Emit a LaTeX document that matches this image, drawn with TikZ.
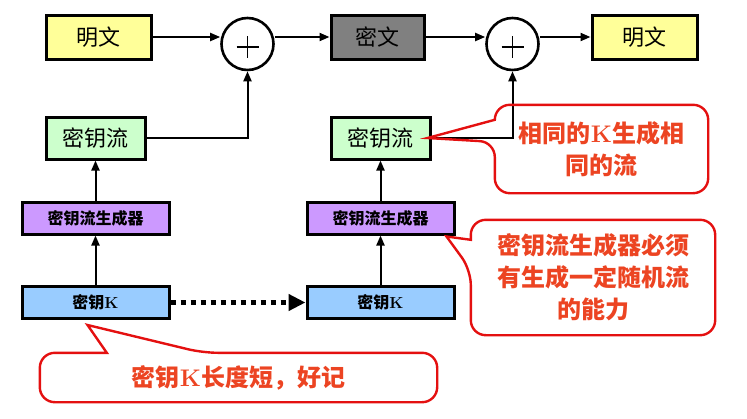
\documentclass[tikz,border=0pt]{standalone}
\usepackage{fontspec}
\newfontfamily\cjk{Noto Sans CJK SC}
\usetikzlibrary{arrows.meta,calc}
\definecolor{ptyellow}{RGB}{255,255,153}
\definecolor{ctgray}{RGB}{128,128,128}
\definecolor{ksgreen}{RGB}{204,255,204}
\definecolor{genpurple}{RGB}{204,153,255}
\definecolor{keyblue}{RGB}{153,204,255}
\definecolor{notered}{RGB}{228,16,16}
\definecolor{notetext}{RGB}{236,68,34}
\newcommand\serifK{{\rmfamily\bfseries K}}
\begin{document}
\begin{tikzpicture}[x=1pt,y=-1pt,
  blk/.style={draw=black,line width=3pt,inner sep=0pt,font=\cjk\fontsize{22}{26}\selectfont},
  small/.style={blk,minimum width=147,minimum height=32,font=\cjk\bfseries\fontsize{16}{18}\selectfont},
  xor/.style={circle,draw,line width=2.6pt,minimum size=52,inner sep=0pt,
    path picture={\draw[line width=1.6pt] (path picture bounding box.center) +(-11,3) -- +(11,3) +(0,-8) -- +(0,14);}},
  flow/.style={line width=2pt,-{Triangle[length=10pt,width=8pt]}},
  dots/.style={line width=5pt,dash pattern=on 5pt off 5pt,-{Triangle[length=17pt,width=16pt]}},
  note/.style={inner sep=0pt,align=center,text=notetext,font=\cjk\bfseries\fontsize{24}{32}\selectfont},
  noteline/.style={draw=notered,line width=2.4pt,rounded corners=15pt}]
\useasboundingbox (0,0) rectangle (747,418);

\node[blk,fill=ptyellow,minimum width=105,minimum height=44] (pt1) at (98.5,37) {明文};
\node[xor] (xor1) at (247.5,44) {};
\node[blk,fill=ctgray,minimum width=93,minimum height=44] (ct) at (377.5,37) {密文};
\node[xor] (xor2) at (512.5,44) {};
\node[blk,fill=ptyellow,minimum width=105,minimum height=44] (pt2) at (644.5,37) {明文};

\node[blk,fill=ksgreen,minimum width=99,minimum height=42] (ks1) at (95.5,138) {密钥流};
\node[blk,fill=ksgreen,minimum width=99,minimum height=42] (ks2) at (380.5,138) {密钥流};
\node[small,fill=genpurple] (gen1) at (95.5,218) {密钥流生成器};
\node[small,fill=genpurple] (gen2) at (380.5,218) {密钥流生成器};
\node[small,fill=keyblue] (key1) at (95.5,302.5) {密钥\serifK};
\node[small,fill=keyblue] (key2) at (380.5,302.5) {密钥\serifK};

\draw[flow] (pt1.east) -- (pt1.east -| xor1.west);
\draw[flow] (xor1.east |- ct.west) -- (ct.west);
\draw[flow] (ct.east) -- (ct.east -| xor2.west);
\draw[flow] (xor2.east |- pt2.west) -- (pt2.west);
\draw[flow] (ks1.east) -| (xor1.south);
\draw[flow] (ks2.east) -| (xor2.south);
\draw[flow] (gen1) -- (ks1);
\draw[flow] (gen2) -- (ks2);
\draw[flow] (key1) -- (gen1);
\draw[flow] (key2) -- (gen2);
\draw[dots] (key1) -- (key2);

\node[note,minimum width=213,minimum height=88] (noteA) at (601.5,149) {相同的\serifK 生成相\\同的流};
\node[note,minimum width=244,minimum height=115] (noteB) at (593,277.5) {密钥流生成器必须\\有生成一定随机流\\的能力};
\node[note,minimum width=397,minimum height=49] (noteC) at (238.5,377.5) {密钥\serifK 长度短，好记};

\draw[noteline] ($(noteA.west)+(0,-7)$) [sharp corners] -- ($(ks2.east)+(-4,0)$) -- ($(noteA.north west)+(0,15)$) [rounded corners=15pt] -- (noteA.north west) -- (noteA.north east) -- (noteA.south east) -- (noteA.south west) -- cycle;
\draw[noteline] ($(noteB.north west)+(0,50)$) [sharp corners] -- ($(gen2.south east)+(-9,1)$) -- ($(noteB.north west)+(0,20)$) [rounded corners=15pt] -- (noteB.north west) -- (noteB.north east) -- (noteB.south east) -- (noteB.south west) -- cycle;
\draw[noteline] ($(noteC.north west)+(163,0)$) [sharp corners] -- ($(key1.south)+(-8,5)$) -- ($(noteC.north west)+(67,0)$) [rounded corners=15pt] -- (noteC.north west) -- (noteC.south west) -- (noteC.south east) -- (noteC.north east) -- cycle;
\end{tikzpicture}
\end{document}
